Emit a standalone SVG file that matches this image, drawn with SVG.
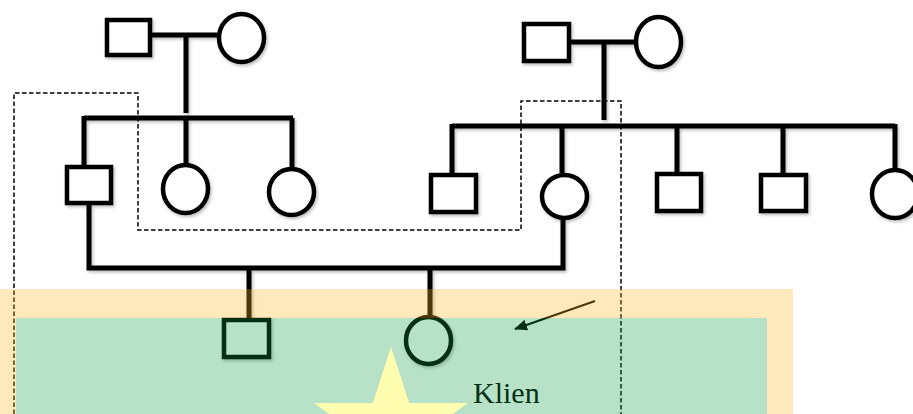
<svg xmlns="http://www.w3.org/2000/svg" width="913" height="414" viewBox="0 0 913 414">
<style>
.n{fill:#fff;stroke:#000;stroke-width:4.5}
.c{fill:none;stroke:#000;stroke-width:5;stroke-linecap:butt;stroke-linejoin:miter}
.d{fill:none;stroke:#000;stroke-width:1.5;stroke-dasharray:4.5 2.5}
.lbl{font-family:"Liberation Serif","Times New Roman",serif;font-size:30px;fill:#000}
</style>
<defs>
<filter id="sh" x="-10%" y="-10%" width="130%" height="130%">
<feDropShadow dx="1.5" dy="2" stdDeviation="1.5" flood-color="#000" flood-opacity="0.25"/>
</filter>
<marker id="ah" markerWidth="13" markerHeight="11" refX="12" refY="5.5" orient="auto" markerUnits="userSpaceOnUse">
<path d="M0,0 L13,5.5 L0,11 Z" fill="#000"/>
</marker>
</defs>
<rect width="913" height="414" fill="#fff"/>
<g id="connectors" filter="url(#sh)">
<path class="c" d="M152 35 H217 M186 35 V113 M84 118 H293 M84 116 V165 M186 118 V165 M292 118 V169"/>
<path class="c" d="M571 42 H634 M604 42 V120 M452 126 H895 M452 124 V173 M562 126 V173 M677 126 V172 M783 126 V173 M895 124 V168"/>
<path class="c" d="M89 205 V268 H563 V220 M249 268 V318 M430 268 V315"/>
</g>
<g id="dashed">
<path class="d" d="M14 414 V93 H138 V230 H521 V101 H621 V414"/>
</g>
<g filter="url(#sh)">
<g id="gf1"><rect class="n" x="107" y="20" width="43" height="35"/></g>
<g id="gm1"><ellipse class="n" cx="241.5" cy="38" rx="22.5" ry="24"/></g>
<g id="gf2"><rect class="n" x="524" y="24" width="45" height="37"/></g>
<g id="gm2"><ellipse class="n" cx="658.5" cy="42" rx="22.5" ry="25"/></g>
<g id="father"><rect class="n" x="67" y="167" width="44" height="36"/></g>
<g id="aunt1"><ellipse class="n" cx="185.5" cy="189" rx="22.5" ry="24"/></g>
<g id="aunt2"><ellipse class="n" cx="291.5" cy="192" rx="22.5" ry="23"/></g>
<g id="uncle1"><rect class="n" x="431" y="175" width="45" height="37"/></g>
<g id="mother"><ellipse class="n" cx="564.5" cy="196.5" rx="22.5" ry="21.5"/></g>
<g id="uncle2"><rect class="n" x="657" y="174" width="44" height="37"/></g>
<g id="uncle3"><rect class="n" x="761" y="175" width="45" height="36"/></g>
<g id="aunt3"><ellipse class="n" cx="895" cy="194" rx="23" ry="24"/></g>
<g id="brother"><rect class="n" x="224" y="320" width="45" height="37"/></g>
<g id="client"><ellipse class="n" cx="428.5" cy="340.5" rx="22.5" ry="23.5"/></g>
</g>
<g id="arrow">
<line x1="595" y1="301" x2="515" y2="329" stroke="#000" stroke-width="2" marker-end="url(#ah)"/>
</g>
<text class="lbl" x="473" y="403">Klien</text>
<g id="overlay">
<path d="M0 289 H793 V414 H0 Z M16 318 V414 H767 V318 Z" fill="rgb(250,183,33)" fill-opacity="0.3" fill-rule="evenodd"/>
<rect x="16" y="318" width="751" height="96" fill="rgb(20,160,70)" fill-opacity="0.3"/>
</g>
<g id="star">
<polygon fill="#FFFDB0" points="391,347 409.2,403 468,403 420.4,437.6 438.6,493.5 391,459 343.4,493.5 361.6,437.6 314,403 372.8,403"/>
</g>
</svg>
